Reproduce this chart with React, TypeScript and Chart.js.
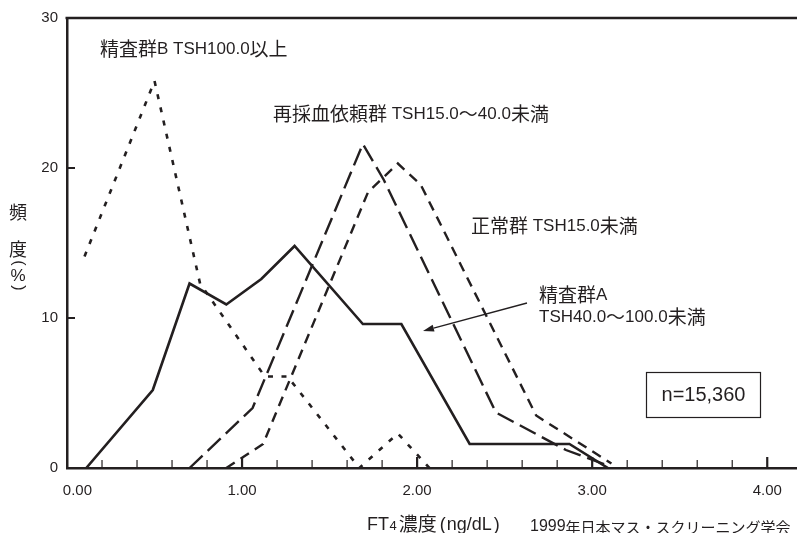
import React, { useEffect, useRef } from "react";
import { Chart, registerables } from "chart.js";

Chart.register(...registerables);

// ---------- data (FT4 ng/dL vs frequency %) ----------
// 精査群A TSH40.0～100.0未満 (solid)
const groupA_x = [0.11, 0.49, 0.70, 0.91, 1.11, 1.30, 1.69, 1.91, 2.30, 2.87, 3.09];
const groupA_y = [0, 5.2, 12.3, 10.9, 12.6, 14.8, 9.6, 9.6, 1.6, 1.6, 0];
// 精査群B TSH100.0以上 (dotted)
const groupB_x = [0.10, 0.50, 0.76, 1.13, 1.26, 1.67, 1.89, 2.07];
const groupB_y = [14.1, 25.8, 12.3, 6.1, 6.1, 0, 2.3, 0];
// 再採血依頼群 TSH15.0～40.0未満 (long dash)
const recheck_x = [0.70, 1.06, 1.69, 1.81, 2.45, 2.85, 3.08];
const recheck_y = [0, 4.0, 21.6, 19.2, 3.7, 1.2, 0.2];
// 正常群 TSH15.0未満 (short dash)
const normal_x = [0.91, 1.12, 1.72, 1.89, 2.02, 2.68, 3.11];
const normal_y = [0, 1.6, 18.4, 20.3, 18.9, 3.5, 0.3];

const seriesNames = [
  "精査群A TSH40.0～100.0未満",
  "精査群B TSH100.0以上",
  "再採血依頼群 TSH15.0～40.0未満",
  "正常群 TSH15.0未満",
];

const X_MIN = 0;
const X_MAX = 4.17;
const X_STEP = 0.2;
const Y_MIN = 0;
const Y_MAX = 30;
const Y_STEP = 10;

const sampleText = "n=15,360";
const xTitleParts = ["FT", "4", "濃度", "(", "ng/dL", ")"];
const yTitleChars = ["頻", "度", "(", "%", ")"];
const footerText = "1999年日本マス・スクリーニング学会";

// ---------- style ----------
const INK = "#231f20";
const LATIN = '"Liberation Sans", Arial, sans-serif';
const CJK = '"Noto Sans CJK JP", sans-serif';

const toPoints = (xs: number[], ys: number[]) => xs.map((x, i) => ({ x, y: ys[i] }));
const isMajor = (v: number) => Math.abs(v - Math.round(v)) < 1e-6;

const CJK_RE = /[\u3000-\u30ff\u3400-\u9fff\uff00-\uffef\ufe30-\ufe4f]/;

function drawMixed(
  ctx: CanvasRenderingContext2D,
  text: string,
  x: number,
  y: number,
  latinPx: number,
  cjkPx: number
) {
  const runs: { t: string; c: boolean }[] = [];
  for (const ch of text) {
    const c = CJK_RE.test(ch);
    if (runs.length && runs[runs.length - 1].c === c) runs[runs.length - 1].t += ch;
    else runs.push({ t: ch, c });
  }
  ctx.textAlign = "left";
  ctx.textBaseline = "middle";
  let cx = x;
  for (const r of runs) {
    ctx.font = r.c ? `${cjkPx}px ${CJK}` : `${latinPx}px ${LATIN}`;
    ctx.fillText(r.t, cx, y);
    cx += ctx.measureText(r.t).width;
  }
}

const decorPlugin = {
  id: "decor",
  afterDatasetsDraw(chart: any) {
    const { ctx, chartArea: ca, scales } = chart;
    const xs = scales.x;
    const ys = scales.y;
    ctx.save();
    ctx.strokeStyle = INK;
    ctx.fillStyle = INK;

    // top frame line
    ctx.lineWidth = 2.5;
    ctx.beginPath();
    ctx.moveTo(ca.left - 1.5, ca.top);
    ctx.lineTo(ca.right, ca.top);
    ctx.stroke();

    // inward x ticks
    xs.ticks.forEach((t: any) => {
      const v = t.value;
      if (Math.abs(v) < 1e-6) return;
      const px = xs.getPixelForValue(v);
      const major = isMajor(v);
      ctx.lineWidth = major ? 2.2 : 1.2;
      ctx.beginPath();
      ctx.moveTo(px, ca.bottom);
      ctx.lineTo(px, ca.bottom - (major ? 11 : 8));
      ctx.stroke();
    });
    // inward y ticks
    ys.ticks.forEach((t: any) => {
      const v = t.value;
      if (v <= Y_MIN || v >= Y_MAX) return;
      const py = ys.getPixelForValue(v);
      ctx.lineWidth = 2;
      ctx.beginPath();
      ctx.moveTo(ca.left, py);
      ctx.lineTo(ca.left + 8, py);
      ctx.stroke();
    });

    ctx.fillStyle = INK;
    // series annotations
    drawMixed(ctx, seriesNames[1], 100, 49, 17, 19);
    drawMixed(ctx, seriesNames[2], 273, 114, 17, 19);
    drawMixed(ctx, seriesNames[3], 471, 226, 17, 19);
    drawMixed(ctx, "精査群A", 539, 295, 17, 19);
    drawMixed(ctx, "TSH40.0～100.0未満", 539, 317, 17, 19);

    // arrow
    const ax0 = 527, ay0 = 303, ax1 = 423, ay1 = 331;
    const ang = Math.atan2(ay1 - ay0, ax1 - ax0);
    const hl = 11, hw = 3.5;
    const bx = ax1 - hl * Math.cos(ang), by = ay1 - hl * Math.sin(ang);
    ctx.lineWidth = 1.3;
    ctx.beginPath();
    ctx.moveTo(ax0, ay0);
    ctx.lineTo(bx, by);
    ctx.stroke();
    ctx.beginPath();
    ctx.moveTo(ax1, ay1);
    ctx.lineTo(bx + hw * Math.sin(ang), by - hw * Math.cos(ang));
    ctx.lineTo(bx - hw * Math.sin(ang), by + hw * Math.cos(ang));
    ctx.closePath();
    ctx.fill();

    // sample size box
    ctx.lineWidth = 1.2;
    ctx.strokeRect(646.5, 372.5, 114, 45);
    ctx.font = `20px ${LATIN}`;
    ctx.textAlign = "center";
    ctx.textBaseline = "middle";
    ctx.fillText(sampleText, 703.5, 395.5);

    // y title (vertical; parentheses rotated for vertical setting)
    ctx.textAlign = "center";
    ctx.textBaseline = "middle";
    const yPos = [212, 249, 263, 276, 288];
    yTitleChars.forEach((ch, i) => {
      if (ch === "(" || ch === ")") {
        ctx.save();
        ctx.translate(18, yPos[i]);
        ctx.rotate(Math.PI / 2);
        ctx.font = `16px ${LATIN}`;
        ctx.fillText(ch, 0, 0);
        ctx.restore();
      } else {
        ctx.font = ch === "%" ? `17px ${LATIN}` : `18px ${CJK}`;
        ctx.fillText(ch, 18, yPos[i]);
      }
    });

    // x title with small "4"
    ctx.textAlign = "left";
    ctx.textBaseline = "alphabetic";
    let cx = 367;
    const base = 530;
    ctx.font = `18px ${LATIN}`;
    ctx.fillText(xTitleParts[0], cx, base);
    cx += ctx.measureText(xTitleParts[0]).width + 0.5;
    ctx.font = `13px ${LATIN}`;
    ctx.fillText(xTitleParts[1], cx, base);
    cx += ctx.measureText(xTitleParts[1]).width + 2;
    ctx.font = `19px ${CJK}`;
    ctx.fillText(xTitleParts[2], cx, base + 1);
    cx += ctx.measureText(xTitleParts[2]).width + 3;
    ctx.font = `18px ${LATIN}`;
    ctx.fillText(xTitleParts[3], cx, base);
    cx += ctx.measureText(xTitleParts[3]).width + 1;
    ctx.fillText(xTitleParts[4], cx, base);
    cx += ctx.measureText(xTitleParts[4]).width + 2;
    ctx.fillText(xTitleParts[5], cx, base);

    // footer
    drawMixed(ctx, footerText, 530, 527, 16, 15);

    ctx.restore();
  },
};

export default function App() {
  const ref = useRef<HTMLCanvasElement>(null);

  useEffect(() => {
    if (!ref.current) return;
    const mk = (label: string, xs: number[], ys: number[], dash: number[], width: number) => ({
      label,
      data: toPoints(xs, ys),
      borderColor: INK,
      backgroundColor: INK,
      borderWidth: width,
      borderDash: dash,
      borderCapStyle: "butt" as const,
      borderJoinStyle: "miter" as const,
      pointRadius: 0,
      tension: 0,
      fill: false,
    });
    const chart = new Chart(ref.current, {
      type: "line",
      data: {
        datasets: [
          mk(seriesNames[0], groupA_x, groupA_y, [], 2.6),
          mk(seriesNames[1], groupB_x, groupB_y, [5, 8.5], 2.6),
          mk(seriesNames[2], recheck_x, recheck_y, [18, 7], 2.4),
          mk(seriesNames[3], normal_x, normal_y, [10, 7], 2.4),
        ],
      },
      options: {
        responsive: true,
        maintainAspectRatio: false,
        animation: false,
        layout: { padding: { top: 15, left: 0, right: 0, bottom: 0 } },
        plugins: {
          legend: { display: false },
          tooltip: { enabled: false },
          title: { display: false },
        },
        scales: {
          x: {
            type: "linear",
            min: X_MIN,
            max: X_MAX,
            grid: { display: false, drawTicks: false },
            border: { display: true, color: INK, width: 2.5 },
            ticks: {
              stepSize: X_STEP,
              includeBounds: false,
              autoSkip: false,
              maxRotation: 0,
              padding: 14,
              color: INK,
              font: { family: LATIN, size: 15 },
              callback: (v: any) => {
                const n = Number(v);
                if (!isMajor(n)) return "";
                return n === 0 ? "     0.00" : n.toFixed(2);
              },
            },
            afterFit: (s: any) => {
              s.height = 65;
            },
          },
          y: {
            type: "linear",
            min: Y_MIN,
            max: Y_MAX,
            grid: { display: false, drawTicks: false },
            border: { display: true, color: INK, width: 2.5 },
            ticks: {
              stepSize: Y_STEP,
              padding: 9,
              color: INK,
              font: { family: LATIN, size: 15 },
            },
            afterFit: (s: any) => {
              s.width = 67;
            },
          },
        },
      },
      plugins: [decorPlugin],
    });
    return () => chart.destroy();
  }, []);

  return (
    <div style={{ position: "absolute", left: 0, top: 0, width: 797, height: 533, background: "#fff" }}>
      <canvas ref={ref} />
    </div>
  );
}
